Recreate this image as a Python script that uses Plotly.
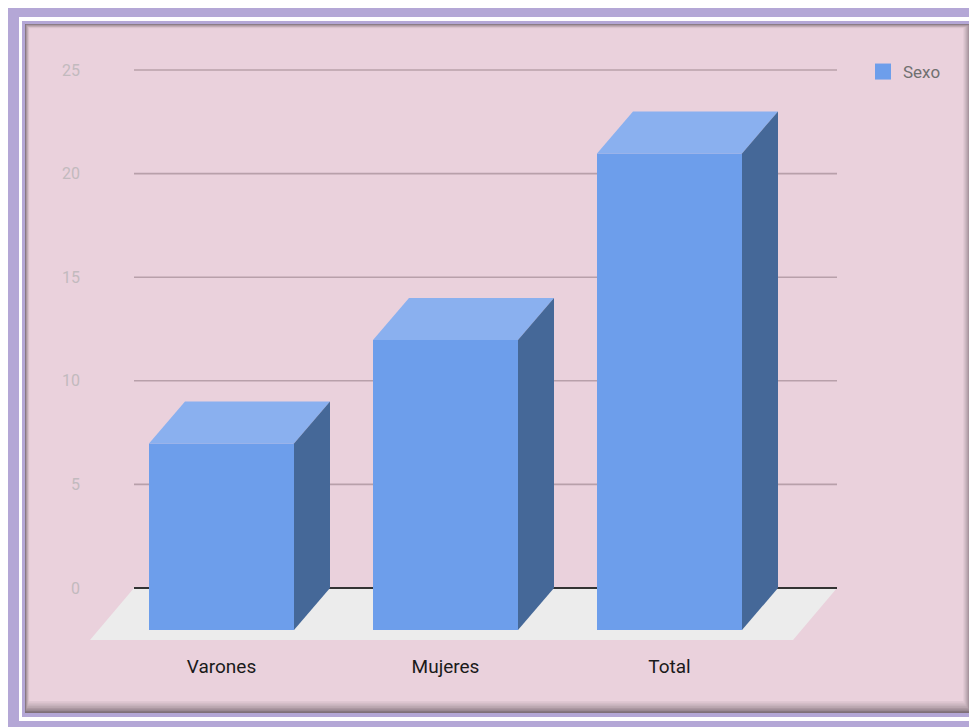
import plotly.graph_objects as go

# ---------------- data ----------------
categories = ["Varones", "Mujeres", "Total"]
values = [9, 14, 23]
series_name = "Sexo"
y_ticks = [0, 5, 10, 15, 20, 25]

# ---------------- geometry / style ----------------
OFF = 8                                   # page body margin
W, H = 977 - OFF, 727 - OFF
# plot area in screen pixels
SL, SR, ST, SB = 88, 850, 55, 645
L, R, T, B = SL - OFF, SR - OFF, ST - OFF, SB - OFF
SLOT = 224.0                             # px per category
X0PX = 221.5                             # screen px of first category (front face centre)
ZERO_PX = 588.0                          # screen px of value 0
UNIT = 20.72                             # px per value unit

xr = [(SL - X0PX) / SLOT, (SR - X0PX) / SLOT]
yr = [(ZERO_PX - SB) / UNIT, (ZERO_PX - ST) / UNIT]

BAR_W = 145 / SLOT        # front face width
DX = 36 / SLOT            # 3D depth, horizontal
DY = 42 / UNIT            # 3D depth, vertical
GRID_X0 = (134 - X0PX) / SLOT
GRID_X1 = (837 - X0PX) / SLOT
FLOOR_DX = 44 / SLOT
FLOOR_DY = 52 / UNIT

FRONT = "#6d9eeb"
TOP = "#8ab0ef"
SIDE = "#456898"
PINK = "#ead1dc"
LAV = "#b4a7d6"
GRID = "#b8a0aa"
FLOOR = "#ececec"
FONT = "Roboto"


def px_to_paper(px, py):
    # screen px -> paper coords
    return (px - SL) / (SR - SL), (SB - py) / (SB - ST)


def paper_rect(x0, y0, x1, y1, color):
    a, b = px_to_paper(x0, y1)
    c, d = px_to_paper(x1, y0)
    return dict(type="rect", xref="paper", yref="paper", x0=a, y0=b, x1=c, y1=d,
                fillcolor=color, line=dict(width=0), layer="below")


def hexmix(c1, c2, t):
    a = [int(c1[i:i + 2], 16) for i in (1, 3, 5)]
    b = [int(c2[i:i + 2], 16) for i in (1, 3, 5)]
    return "#" + "".join(f"{round(a[k] + (b[k] - a[k]) * t):02x}" for k in range(3))


shapes = []
# frame
shapes.append(paper_rect(0, 0, 990, 740, LAV))
shapes.append(paper_rect(19, 17, 975, 721, "white"))
shapes.append(paper_rect(22, 21, 973, 717, LAV))
steps = 7
dark = "#7f7078"
for k in range(steps + 1):
    t = k / steps
    col = hexmix(dark, PINK, t ** 0.7)
    shapes.append(paper_rect(25 + k * 0.6, 24 + k * 0.6, 971 - k * 1.1, 713 - k * 1.7, col))

# floor
fx0, fx1 = GRID_X0, GRID_X1
shapes.append(dict(
    type="path", xref="x", yref="y", layer="below",
    path=f"M{fx0},0 L{fx1},0 L{fx1 - FLOOR_DX},{-FLOOR_DY} L{fx0 - FLOOR_DX},{-FLOOR_DY} Z",
    fillcolor=FLOOR, line=dict(width=0)))
# gridlines
for v in y_ticks:
    if v == 0:
        continue
    shapes.append(dict(type="line", xref="x", yref="y", layer="below",
                       x0=GRID_X0, x1=GRID_X1, y0=v, y1=v,
                       line=dict(color=GRID, width=1.6)))
shapes.append(dict(type="line", xref="x", yref="y", layer="below",
                   x0=GRID_X0, x1=GRID_X1, y0=0, y1=0,
                   line=dict(color="#333333", width=2)))

fig = go.Figure()

# front faces
fig.add_trace(go.Bar(
    x=list(range(len(categories))), y=values, base=[-DY] * len(values),
    width=BAR_W, marker=dict(color=FRONT, line=dict(width=0)),
    showlegend=False, hoverinfo="skip"))

# top and side faces computed from the values
for i, v in enumerate(values):
    xl = i - BAR_W / 2
    xrr = i + BAR_W / 2
    ft = v - DY
    fig.add_trace(go.Scatter(
        x=[xl, xrr, xrr + DX, xl + DX, xl], y=[ft, ft, v, v, ft],
        mode="lines", fill="toself", fillcolor=TOP, line=dict(width=0),
        showlegend=False, hoverinfo="skip"))
    fig.add_trace(go.Scatter(
        x=[xrr, xrr, xrr + DX, xrr + DX, xrr], y=[-DY, ft, v, 0, -DY],
        mode="lines", fill="toself", fillcolor=SIDE, line=dict(width=0),
        showlegend=False, hoverinfo="skip"))

# legend entry
fig.add_trace(go.Scatter(
    x=[None], y=[None], mode="markers", name=series_name,
    marker=dict(symbol="square", size=20, color=FRONT)))

leg_x, leg_y = px_to_paper(863, 54)

fig.update_layout(
    width=W, height=H,
    margin=dict(l=L, r=W - R, t=T, b=H - B, pad=0, autoexpand=False),
    paper_bgcolor="white", plot_bgcolor="rgba(0,0,0,0)",
    font=dict(family=FONT),
    shapes=shapes,
    showlegend=True,
    legend=dict(xref="paper", yref="paper", x=leg_x, y=leg_y,
                xanchor="left", yanchor="top", bgcolor="rgba(0,0,0,0)",
                font=dict(family=FONT, size=17, color="#707070")),
    xaxis=dict(range=xr, autorange=False, showgrid=False, zeroline=False,
               showline=False, tickmode="array", automargin=False,
               tickvals=list(range(len(categories))), ticktext=categories,
               ticks="", ticklabelstandoff=8,
               tickfont=dict(family=FONT, size=19, color="#1a1a1a"),
               fixedrange=True),
    yaxis=dict(range=yr, autorange=False, showgrid=False, zeroline=False,
               showline=False, tickmode="array", tickvals=y_ticks,
               ticktext=[str(v) for v in y_ticks], ticks="", automargin=False,
               ticklabelstandoff=7,
               tickfont=dict(family=FONT, size=16, color="#c2babe"),
               fixedrange=True),
)

fig.write_html("out.html")
